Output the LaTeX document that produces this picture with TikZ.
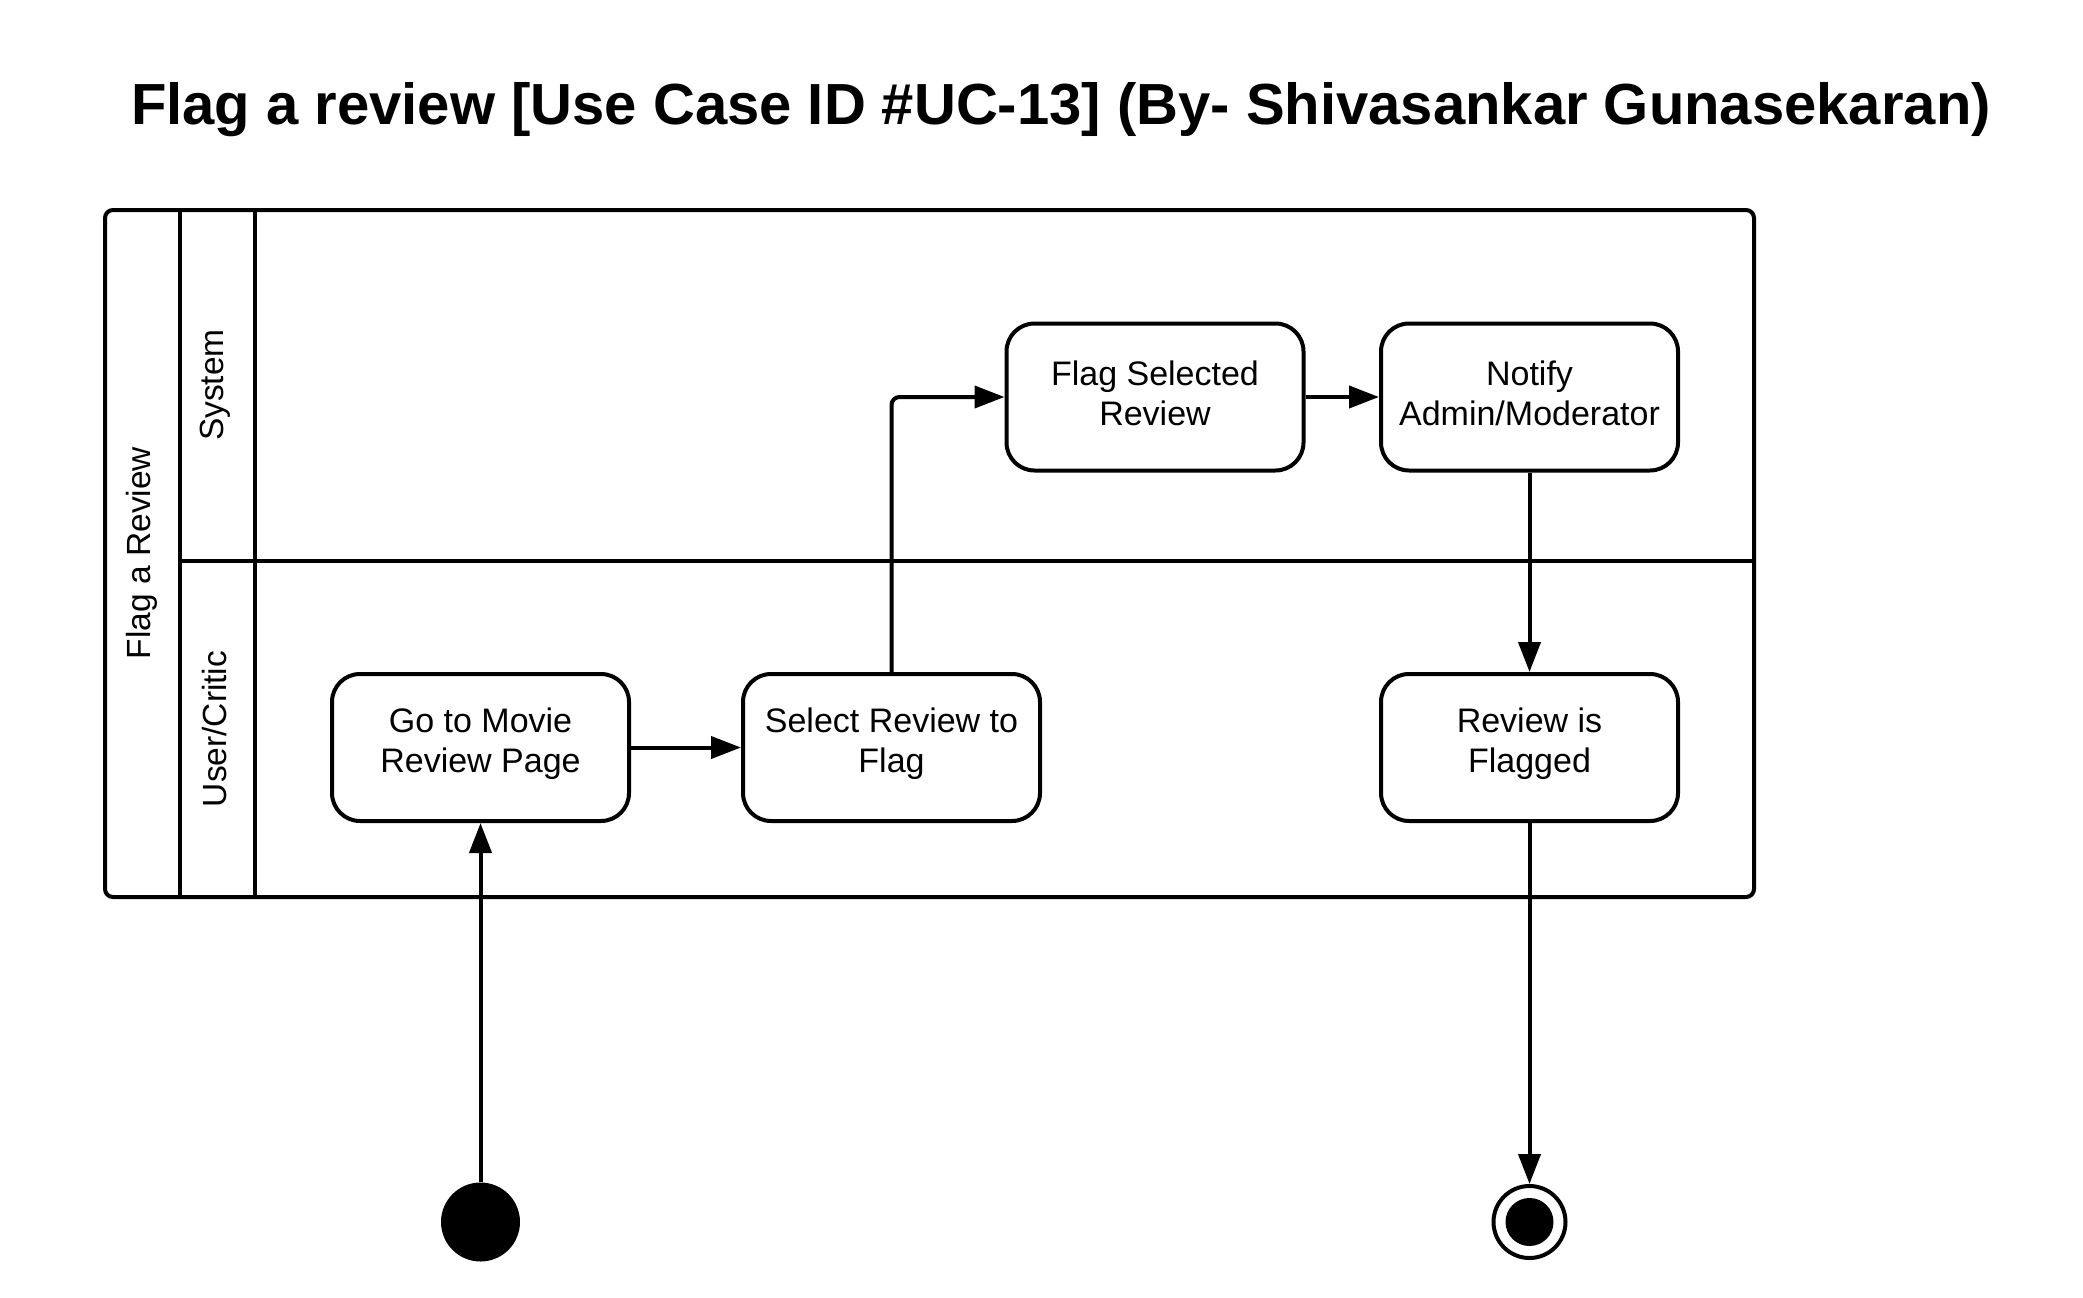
\documentclass[tikz,border=0pt]{standalone}
\usepackage{fontspec}
\setmainfont{Liberation Sans}
\usetikzlibrary{arrows.meta}
\begin{document}
\begin{tikzpicture}[x=1pt,y=-1pt,
  every node/.style={inner sep=0pt},
  line/.style={line width=4pt},
  actbox/.style={draw,line width=4pt,rounded corners=28pt,minimum width=297pt,minimum height=147pt,
    label={[yshift=4pt,align=center,font=\fontsize{34}{40}\selectfont]center:#1}},
  flow/.style={line width=4pt,-{Triangle[length=30pt,width=22pt]}},
  lanelabel/.style={rotate=90,font=\fontsize{33.5}{40}\selectfont}]
\useasboundingbox (0,0) rectangle (2083,1298);
\node (title) at (1061,110) {\fontsize{58}{66}\selectfont\bfseries Flag a review [Use Case ID \#UC-13] (By- Shivasankar Gunasekaran)};
% frame
\draw[line,rounded corners=8pt] (105,210) rectangle (1754,897);
\draw[line] (180,210) -- (180,897);
\draw[line] (255,210) -- (255,897);
\draw[line] (180,561) -- (1754,561);
\node[lanelabel] (pool) at (142,553) {Flag a Review};
\node[lanelabel] (sys) at (215,385) {System};
\node[lanelabel] (usr) at (215,729) {User/Critic};
% activities
\node[actbox={Go to Movie\\Review Page}] (go) at (480.5,747.5) {};
\node[actbox={Select Review to\\Flag}] (sel) at (891.5,747.5) {};
\node[actbox={Flag Selected\\Review}] (flag) at (1155,397) {};
\node[actbox={Notify\\Admin/Moderator}] (notify) at (1529.5,397) {};
\node[actbox={Review is\\Flagged}] (done) at (1529.5,747.5) {};
\node[circle,fill=black,minimum size=79pt] (start) at (480.5,1222) {};
\node[circle,draw,line width=4pt,minimum size=72pt] (end) at (1529.5,1222) {};
\node[circle,fill=black,minimum size=48pt] (endin) at (1529.5,1222) {};
% flows
\draw[flow] (start) -- (go);
\draw[flow] (go) -- (sel);
\draw[flow,rounded corners=8pt] (sel.north) |- (flag.west);
\draw[flow] (flag) -- (notify);
\draw[flow] (notify) -- (done);
\draw[flow] (done) -- (end);
\end{tikzpicture}
\end{document}
